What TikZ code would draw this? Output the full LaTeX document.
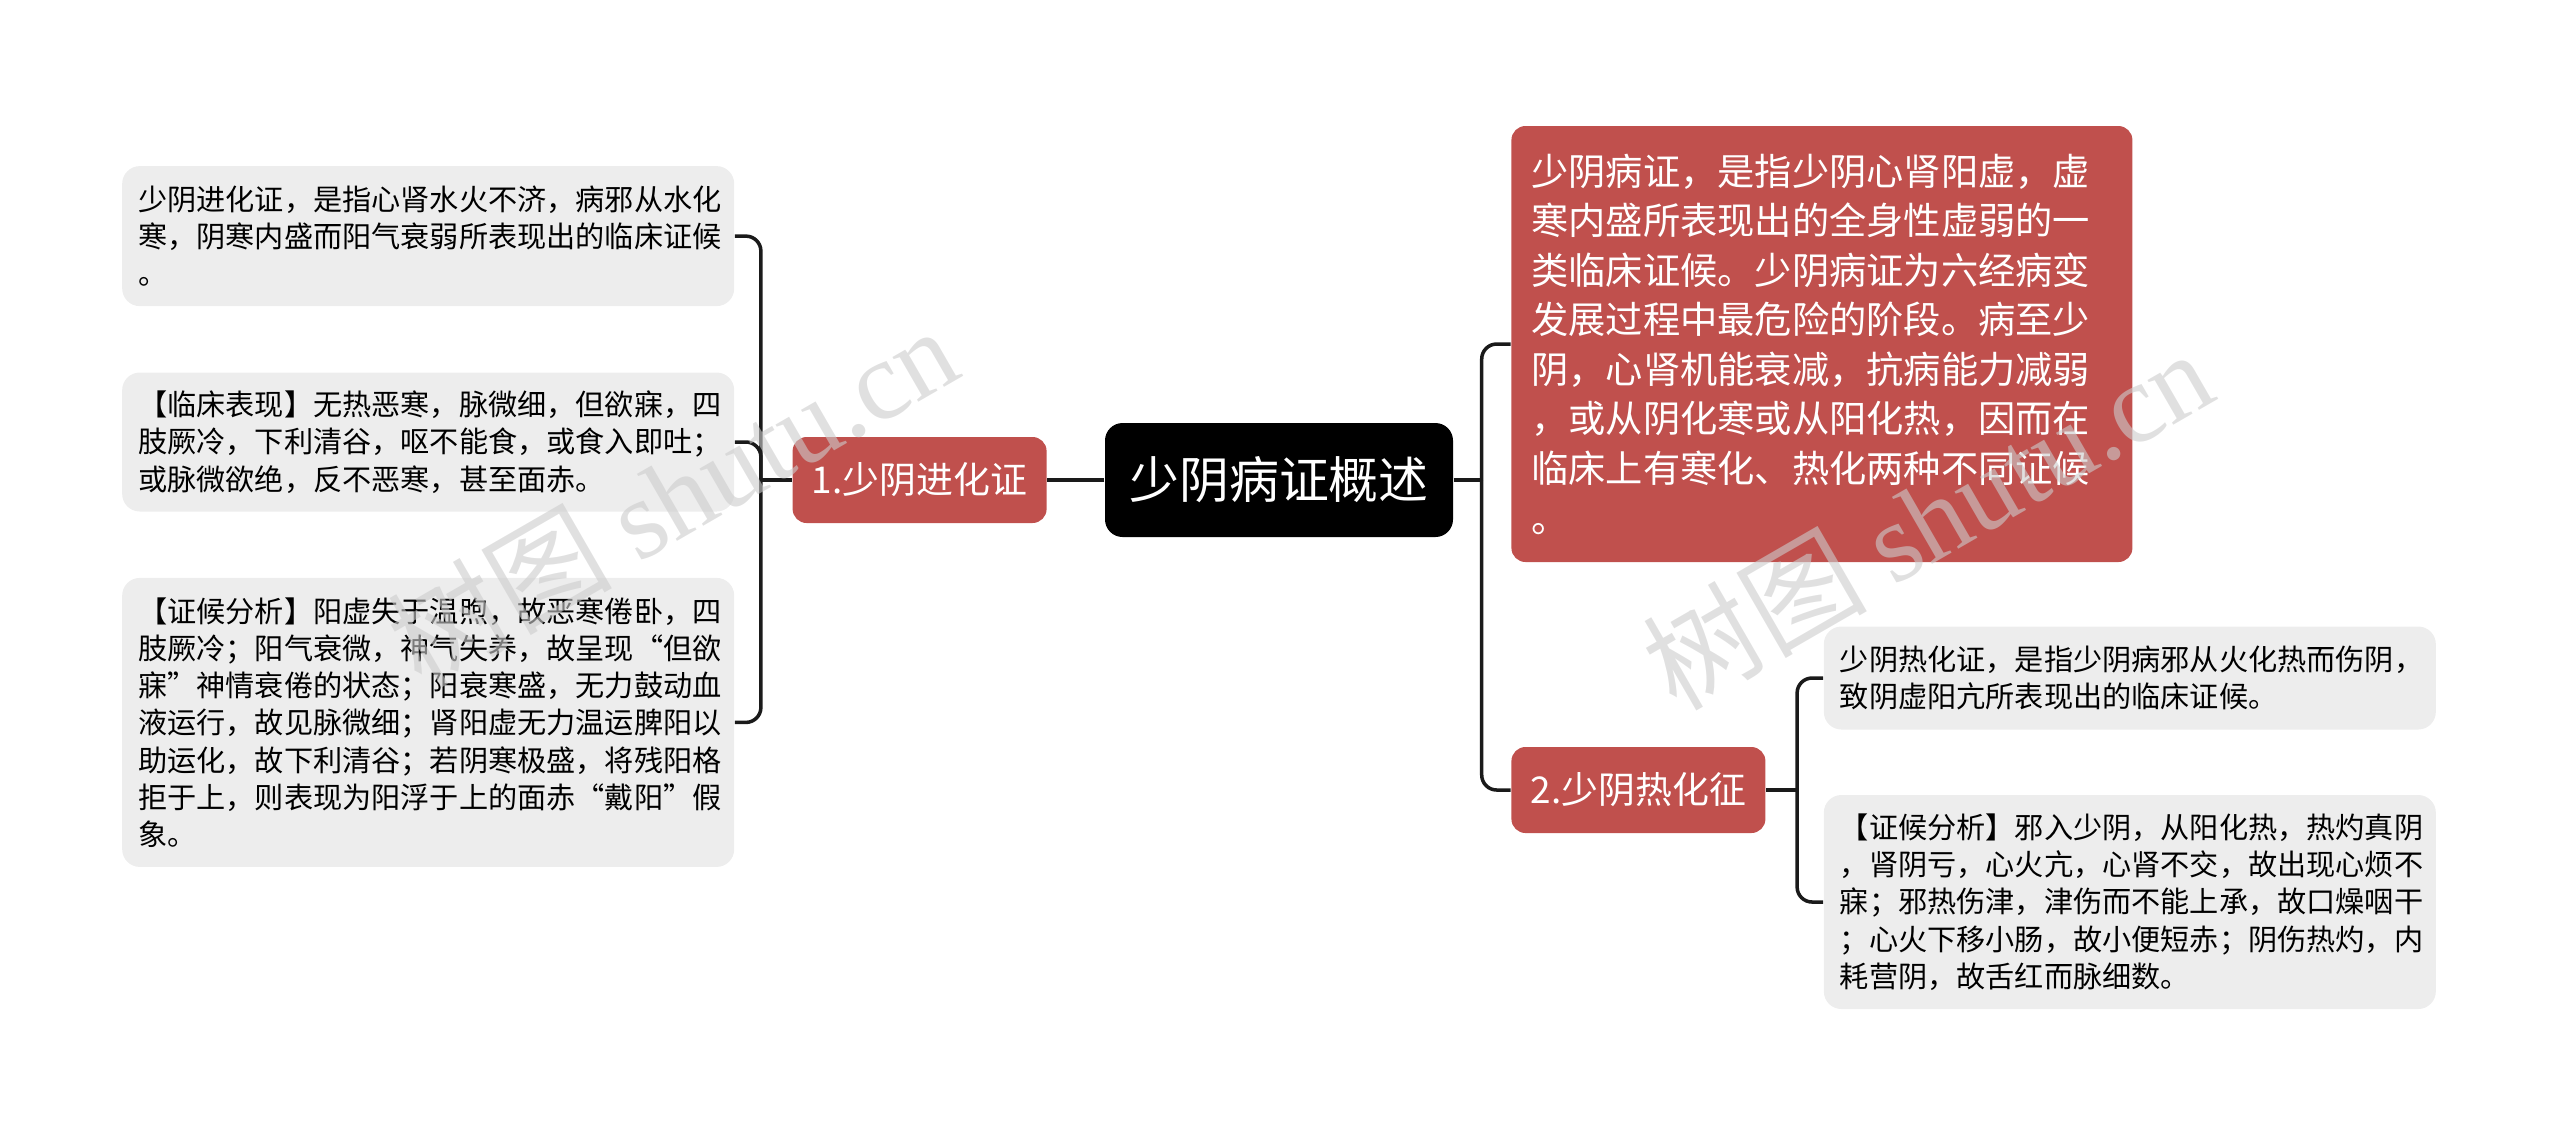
\documentclass[tikz,border=0pt]{standalone}
\usepackage{fontspec}
\setmainfont{Noto Sans CJK SC}
\newfontfamily\wmlatin{Liberation Serif}
\usepackage{tikz}
\usetikzlibrary{positioning,calc}
\definecolor{topicred}{HTML}{C0504D}
\definecolor{leafgray}{HTML}{EDEDED}
\definecolor{linkdark}{HTML}{1A1A1A}

\begin{document}
\begin{tikzpicture}[
    node distance=0.57cm,
    rootbox/.style={rectangle, fill=black, text=white, rounded corners=5pt, minimum width=3.48cm, minimum height=1.14cm, inner sep=0pt, font=\fontsize{14.2}{17}\selectfont},
    mainbox/.style={rectangle, fill=topicred, text=white, rounded corners=4pt, minimum width=2.54cm, minimum height=0.86cm, inner sep=0pt, font=\fontsize{10.5}{13}\selectfont},
    notebox/.style={rectangle, fill=topicred, text=white, rounded corners=4pt, text width=5.81cm, inner xsep=0.2cm, minimum height=4.36cm, align=left, font=\fontsize{10.6}{14.1}\selectfont},
    leaf/.style={rectangle, fill=leafgray, rounded corners=5pt, text width=5.8cm, inner xsep=0.16cm, align=left, font=\fontsize{8.3}{10.6}\selectfont},
    link/.style={line width=1pt, color=linkdark, rounded corners=0.15cm},
    watermark/.style={text=gray!40, opacity=0.6, rotate=30, font=\fontsize{32}{34}\selectfont}
]
  \useasboundingbox (0,0) rectangle (25.6,-11.36);

  \node[rootbox] (root) at (12.79,-4.80) {少阴病证概述};

  % left branch
  \node[mainbox, left=of root] (b1) {1.少阴进化证};
  \node[leaf, minimum height=1.39cm, left=of b1, yshift=0.38cm] (l2) {【临床表现】无热恶寒，脉微细，但欲寐，四\\肢厥冷，下利清谷，呕不能食，或食入即吐；\\或脉微欲绝，反不恶寒，甚至面赤。};
  \node[leaf, minimum height=1.40cm, above=0.65cm of l2] (l1) {少阴进化证，是指心肾水火不济，病邪从水化\\寒，阴寒内盛而阳气衰弱所表现出的临床证候\\。};
  \node[leaf, minimum height=2.89cm, below=0.65cm of l2] (l3) {【证候分析】阳虚失于温煦，故恶寒倦卧，四\\肢厥冷；阳气衰微，神气失养，故呈现“但欲\\寐”神情衰倦的状态；阳衰寒盛，无力鼓动血\\液运行，故见脉微细；肾阳虚无力温运脾阳以\\助运化，故下利清谷；若阴寒极盛，将残阳格\\拒于上，则表现为阳浮于上的面赤“戴阳”假\\象。};

  % right branch
  \node[notebox, right=of root, yshift=1.36cm] (rb) {少阴病证，是指少阴心肾阳虚，虚\\寒内盛所表现出的全身性虚弱的一\\类临床证候。少阴病证为六经病变\\发展过程中最危险的阶段。病至少\\阴，心肾机能衰减，抗病能力减弱\\，或从阴化寒或从阳化热，因而在\\临床上有寒化、热化两种不同证候\\。};
  \node[mainbox, right=of root, yshift=-3.10cm] (b2) {2.少阴热化征};
  \node[leaf, minimum height=1.03cm, right=of b2, yshift=1.12cm] (r1) {少阴热化证，是指少阴病邪从火化热而伤阴，\\致阴虚阳亢所表现出的临床证候。};
  \node[leaf, minimum height=2.14cm, right=of b2, yshift=-1.12cm] (r2) {【证候分析】邪入少阴，从阳化热，热灼真阴\\，肾阴亏，心火亢，心肾不交，故出现心烦不\\寐；邪热伤津，津伤而不能上承，故口燥咽干\\；心火下移小肠，故小便短赤；阴伤热灼，内\\耗营阴，故舌红而脉细数。};

  \coordinate (j1) at ($(b1.west)+(-0.31,0)$);
  \coordinate (j0) at ($(root.east)+(0.28,0)$);
  \coordinate (j2) at ($(b2.east)+(0.31,0)$);

  \draw[link] (root.west) -- (b1.east);
  \draw[link] (b1.west) -- (j1);
  \draw[link] (j1) |- (l1.east);
  \draw[link] (j1) |- (l2.east);
  \draw[link] (j1) |- (l3.east);

  \draw[link] (root.east) -- (j0);
  \draw[link] (j0) |- (rb.west);
  \draw[link] (j0) |- (b2.west);
  \draw[link] (b2.east) -- (j2);
  \draw[link] (j2) |- (r1.west);
  \draw[link] (j2) |- (r2.west);

  \node[watermark] (wm1) at (6.72,-4.95) {树图 {\wmlatin shutu.cn}};
  \node[watermark] (wm2) at (19.27,-5.18) {树图 {\wmlatin shutu.cn}};
\end{tikzpicture}
\end{document}
